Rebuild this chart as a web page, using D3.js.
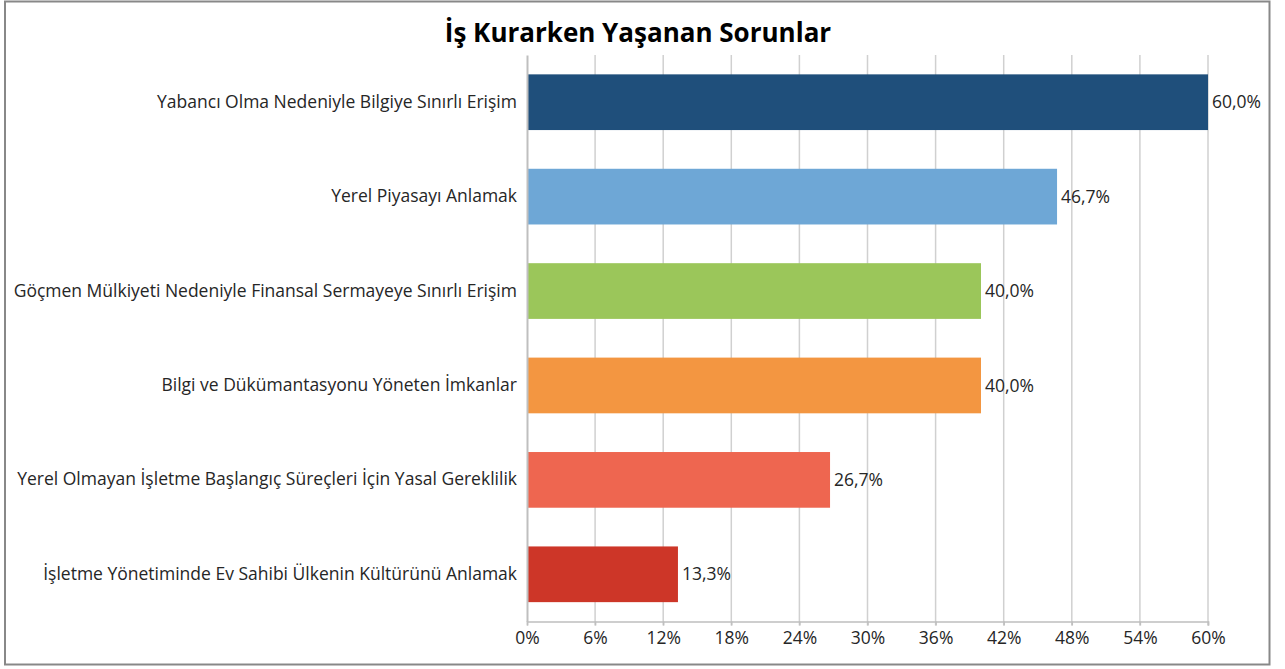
<!DOCTYPE html>
<html>
<head>
<meta charset="utf-8">
<script src="https://cdn.jsdelivr.net/npm/d3@7"></script>
<style>
  body { margin: 0; background: #fff; }
  svg text { font-family: "Open Sans", "Noto Sans", sans-serif; fill: #262626; }
</style>
</head>
<body>
<div id="chart"></div>
<script>
const categories = [
  "Yabancı Olma Nedeniyle Bilgiye Sınırlı Erişim",
  "Yerel Piyasayı Anlamak",
  "Göçmen Mülkiyeti Nedeniyle Finansal Sermayeye Sınırlı Erişim",
  "Bilgi ve Dükümantasyonu Yöneten İmkanlar",
  "Yerel Olmayan İşletme Başlangıç Süreçleri İçin Yasal Gereklilik",
  "İşletme Yönetiminde Ev Sahibi Ülkenin Kültürünü Anlamak"
];
const values = [60.0, 46.7, 40.0, 40.0, 26.7, 13.3];
const colors = ["#1F4F7B", "#6EA7D6", "#9BC65A", "#F39641", "#EE6650", "#CD3628"];
const ticks = [0, 6, 12, 18, 24, 30, 36, 42, 48, 54, 60];
const title = "İş Kurarken Yaşanan Sorunlar";

const W = 1285, H = 669;
const margin = { top: 55, right: 77, bottom: 47.5, left: 527 };
const width = W - margin.left - margin.right;
const height = H - margin.top - margin.bottom;
const fs = 17.5;

const svg = d3.select("#chart").append("svg")
  .attr("width", W).attr("height", H);

// outer frame
svg.append("rect")
  .attr("x", 5).attr("y", 1.5)
  .attr("width", 1264.5).attr("height", 663)
  .attr("fill", "none").attr("stroke", "#888").attr("stroke-width", 2);

svg.append("text")
  .attr("x", 638).attr("y", 42)
  .attr("text-anchor", "middle")
  .attr("font-size", 26).attr("font-weight", "bold")
  .style("fill", "#000")
  .text(title);

const g = svg.append("g")
  .attr("transform", `translate(${margin.left},${margin.top})`);

const x = d3.scaleLinear().domain([0, 60]).range([0, width]);
const y = d3.scaleBand().domain(categories).range([0, height])
  .paddingInner(0.41).paddingOuter(0.205);

// gridlines
g.selectAll(".grid").data(ticks.slice(1)).join("line")
  .attr("class", "grid")
  .attr("x1", d => x(d)).attr("x2", d => x(d))
  .attr("y1", 0).attr("y2", height + 4)
  .attr("stroke", "#d0d0d0").attr("stroke-width", 1.5);

// bars
g.selectAll(".bar").data(values).join("rect")
  .attr("class", "bar")
  .attr("x", 0)
  .attr("y", (d, i) => y(categories[i]))
  .attr("width", d => x(d))
  .attr("height", y.bandwidth())
  .attr("fill", (d, i) => colors[i]);

// value labels
g.selectAll(".val").data(values).join("text")
  .attr("class", "val")
  .attr("x", d => x(d) + 4)
  .attr("y", (d, i) => y(categories[i]) + y.bandwidth() / 2)
  .attr("dy", "0.35em")
  .attr("font-size", fs)
  .text(d => d.toFixed(1).replace(".", ",") + "%");

// x axis
const xAxis = d3.axisBottom(x).tickValues(ticks).tickSize(4).tickPadding(4).tickFormat(d => d + "%");
const xg = g.append("g")
  .attr("transform", `translate(0,${height})`)
  .call(xAxis);
xg.select(".domain").attr("stroke", "#bfbfbf").attr("stroke-width", 1.5);
xg.selectAll(".tick line").attr("stroke", "#bfbfbf").attr("stroke-width", 1.5);
xg.selectAll(".tick text").attr("font-size", fs).attr("dy", "0.85em")
  .style("font-family", "'Open Sans', sans-serif").style("fill", "#262626");

// y axis
const yAxis = d3.axisLeft(y).tickSize(0).tickPadding(10);
const yg = g.append("g").call(yAxis);
yg.select(".domain").attr("stroke", "#bfbfbf").attr("stroke-width", 2);
yg.selectAll(".tick text").attr("font-size", fs)
  .style("font-family", "'Open Sans', sans-serif").style("fill", "#262626");
</script>
</body>
</html>
